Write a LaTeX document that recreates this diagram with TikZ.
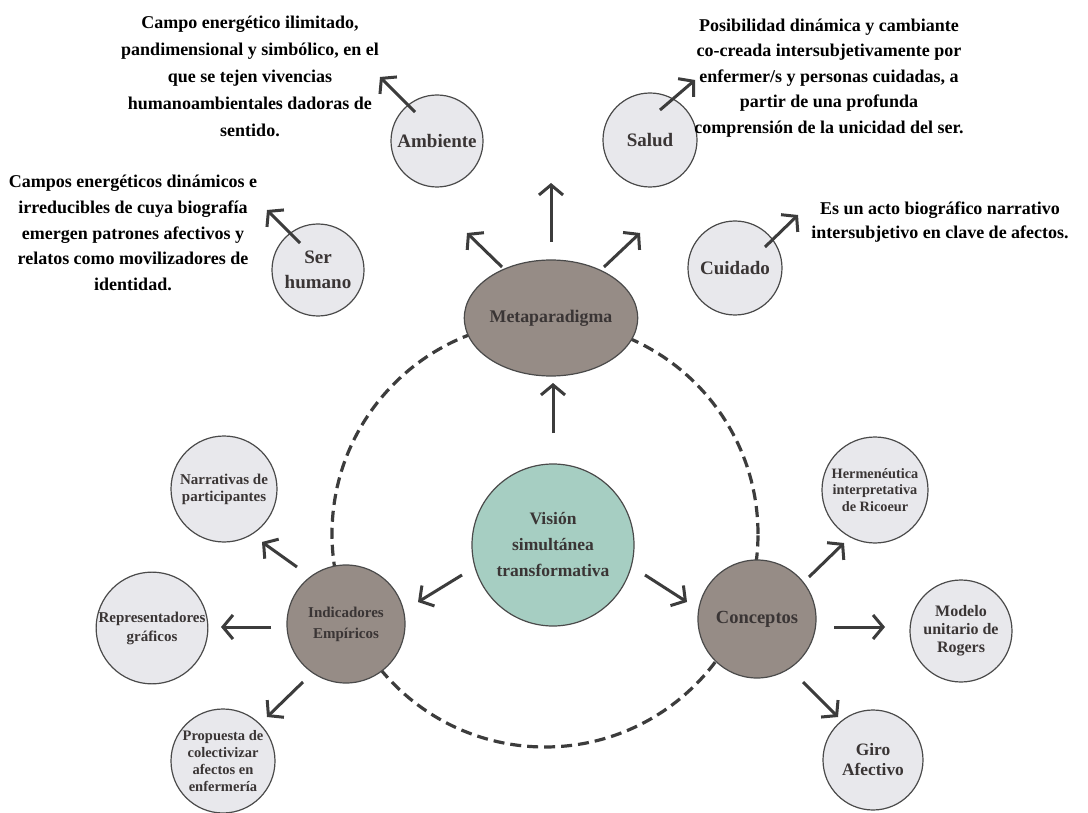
\documentclass[tikz,border=0pt]{standalone}
\usepackage{fontspec}
\setmainfont{Liberation Serif}
\usetikzlibrary{arrows.meta,shapes.geometric}
\definecolor{satfill}{HTML}{E8E8EC}
\definecolor{brownfill}{HTML}{968C86}
\definecolor{tealfill}{HTML}{A6CEC2}
\definecolor{arrowc}{HTML}{3C3C3C}
\definecolor{edgec}{HTML}{4A4A4A}
\definecolor{labelc}{HTML}{3A3535}
\begin{document}
\begin{tikzpicture}[x=1pt,y=-1pt,
  sat/.style={circle, draw=edgec, line width=1.2pt, fill=satfill, inner sep=0pt, align=center, text=labelc},
  hub/.style={circle, draw=edgec, line width=1.2pt, fill=brownfill, inner sep=0pt, align=center, text=labelc},
  desc/.style={align=center, font=\bfseries\fontsize{18}{26}\selectfont, text=black, inner sep=0pt},
  arr/.style={draw=arrowc, line width=3pt, -{Straight Barb[length=10pt,width=24pt]}},
  ring/.style={draw=arrowc, line width=3.2pt, dash pattern=on 11pt off 6pt}
]
\fill[white] (0,0) rectangle (1088,813);
\useasboundingbox (0,0) rectangle (1088,813);

% dashed ring
\draw[ring] (545,534) circle[radius=213pt];

% hubs
\node[hub, ellipse, minimum width=172pt, minimum height=116pt, font=\bfseries\fontsize{17.8}{20}\selectfont] (meta) at (551,318) {Metaparadigma};
\node[hub, fill=tealfill, minimum size=162pt, font=\bfseries\fontsize{17.5}{26}\selectfont] (vision) at (553,545) {Visión\\simultánea\\transformativa};
\node[hub, minimum size=118pt, font=\bfseries\fontsize{15}{21}\selectfont] (ind) at (346,624) {Indicadores\\Empíricos};
\node[hub, minimum size=118pt, font=\bfseries\fontsize{18.5}{22}\selectfont] (conc) at (757,619) {Conceptos};

% metaparadigm satellites
\node[sat, minimum size=92pt, font=\bfseries\fontsize{19}{25}\selectfont] (amb) at (437,141) {Ambiente};
\node[sat, minimum size=92pt, font=\bfseries\fontsize{19}{25}\selectfont] (ser) at (318,270) {Ser\\humano};
\node[sat, minimum size=94pt, font=\bfseries\fontsize{19}{25}\selectfont] (salud) at (650,140) {Salud};
\node[sat, minimum size=94pt, font=\bfseries\fontsize{19}{25}\selectfont] (cuid) at (735,268) {Cuidado};

% empirical indicators satellites
\node[sat, minimum size=106pt, font=\bfseries\fontsize{15}{17}\selectfont] (narr) at (224,489) {Narrativas de\\participantes};
\node[sat, minimum size=106pt, font=\bfseries\fontsize{15}{19}\selectfont] (repr) at (152,628) {Representadores\\gráficos};
\node[sat, minimum size=104pt, font=\bfseries\fontsize{14.5}{16.7}\selectfont] (prop) at (223,761) {Propuesta de\\colectivizar\\afectos en\\enfermería};

% concept satellites
\node[sat, minimum size=106pt, font=\bfseries\fontsize{14.3}{16.5}\selectfont] (herm) at (875,490) {Hermenéutica\\interpretativa\\de Ricoeur};
\node[sat, minimum size=102pt, font=\bfseries\fontsize{16}{18}\selectfont] (model) at (961,631) {Modelo\\unitario de\\Rogers};
\node[sat, minimum size=100pt, font=\bfseries\fontsize{17.4}{20}\selectfont] (giro) at (873,760) {Giro\\Afectivo};

% descriptions
\node[desc, font=\bfseries\fontsize{18}{27}\selectfont] (dAmb) at (250,76) {Campo energético ilimitado,\\pandimensional y simbólico, en el\\que se tejen vivencias\\humanoambientales dadoras de\\sentido.};
\node[desc, font=\bfseries\fontsize{18}{25.7}\selectfont] (dSer) at (133,233) {Campos energéticos dinámicos e\\irreducibles de cuya biografía\\emergen patrones afectivos y\\relatos como movilizadores de\\identidad.};
\node[desc, font=\bfseries\fontsize{18}{25.5}\selectfont] (dSal) at (829,78) {Posibilidad dinámica y cambiante\\co-creada intersubjetivamente por\\enfermer/s y personas cuidadas, a\\partir de una profunda\\comprensión de la unicidad del ser.};
\node[desc, font=\bfseries\fontsize{18}{23.5}\selectfont] (dCuid) at (940,222) {Es un acto biográfico narrativo\\intersubjetivo en clave de afectos.};

% free arrow ends
\coordinate (mUp) at (551,183);
\coordinate (mUL) at (467,233);
\coordinate (mUR) at (640,233);
\coordinate (ambE) at (380,77);
\coordinate (serE) at (267,210);
\coordinate (salE) at (695,80);
\coordinate (cuidE) at (798,215);

% arrows
\draw[arr] ([shift={(0,-112)}]vision.center) -- ([shift={(2,65)}]meta.center);
\draw[arr] ([shift={(0,-76)}]meta.center) -- (mUp);
\draw[arr] ([shift={(-49,-51)}]meta.center) -- (mUL);
\draw[arr] ([shift={(53,-51)}]meta.center) -- (mUR);
\draw[arr] ([shift={(-22,-29)}]amb.center) -- (ambE);
\draw[arr] ([shift={(-18,-27)}]ser.center) -- (serE);
\draw[arr] ([shift={(10,-30)}]salud.center) -- (salE);
\draw[arr] ([shift={(30,-21)}]cuid.center) -- (cuidE);

\draw[arr] ([shift={(-91,30)}]vision.center) -- ([shift={(72,-22)}]ind.center);
\draw[arr] ([shift={(92,30)}]vision.center) -- ([shift={(-70,-17)}]conc.center);

\draw[arr] ([shift={(-49,-57)}]ind.center) -- ([shift={(38,53)}]narr.center);
\draw[arr] ([shift={(-75,3)}]ind.center) -- ([shift={(69,-1)}]repr.center);
\draw[arr] ([shift={(-43,58)}]ind.center) -- ([shift={(44,-44)}]prop.center);

\draw[arr] ([shift={(52,-42)}]conc.center) -- ([shift={(-31,53)}]herm.center);
\draw[arr] ([shift={(77,8)}]conc.center) -- ([shift={(-76,-4)}]model.center);
\draw[arr] ([shift={(46,63)}]conc.center) -- ([shift={(-35,-43)}]giro.center);
\end{tikzpicture}
\end{document}
